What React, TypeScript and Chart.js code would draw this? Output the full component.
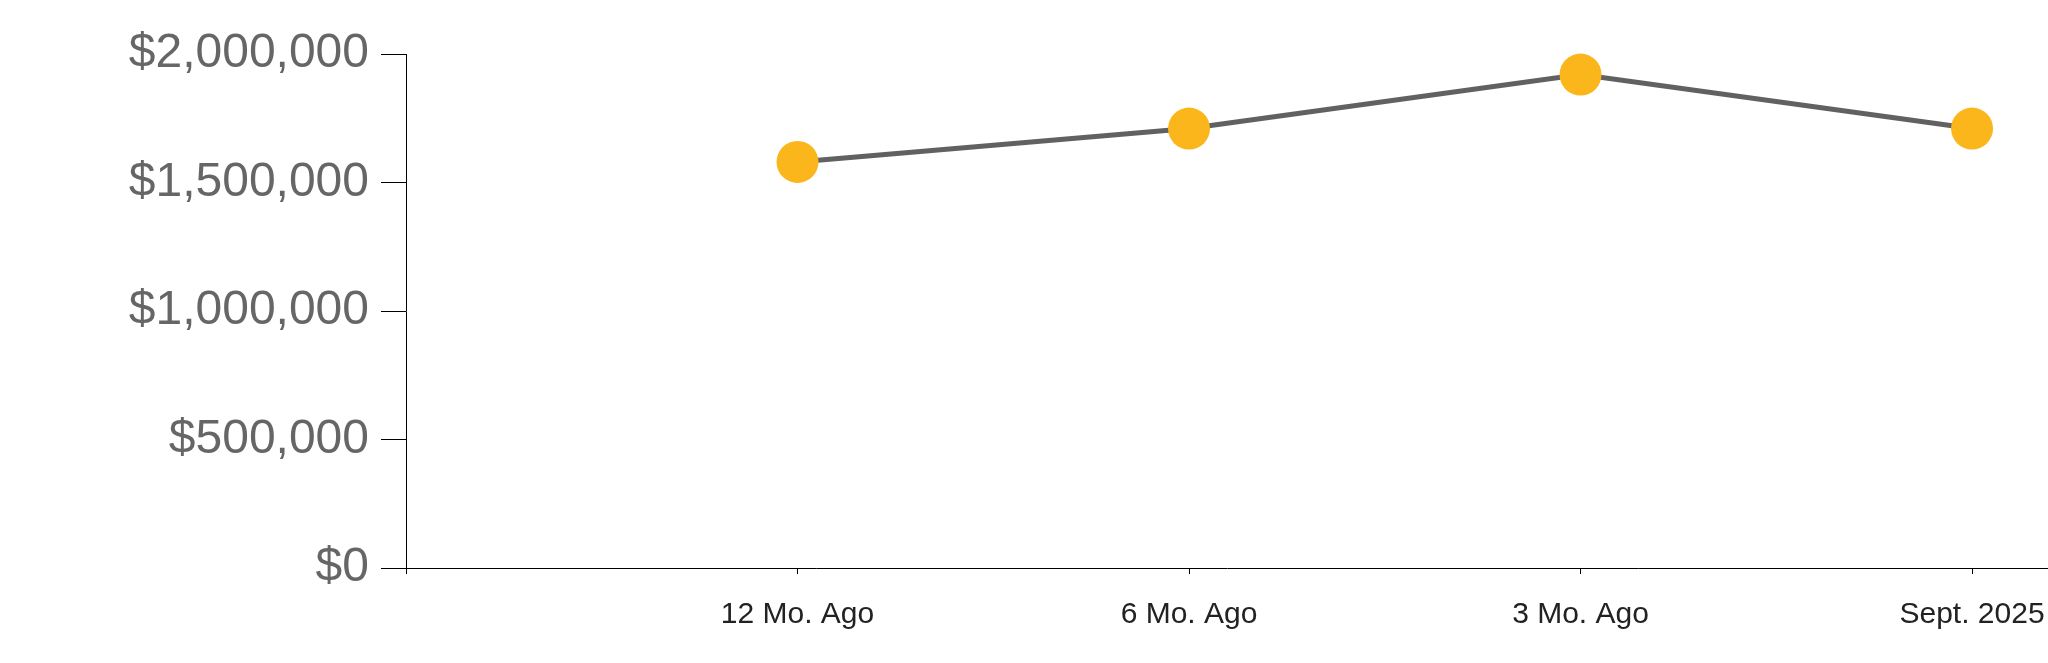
import React, { useEffect, useRef } from "react";
import { Chart, registerables } from "chart.js";

Chart.register(...registerables);

const categories: string[] = ["", "12 Mo. Ago", "6 Mo. Ago", "3 Mo. Ago", "Sept. 2025"];
const values: number[] = [1580000, 1710000, 1920000, 1710000];
const yTicks: number[] = [0, 500000, 1000000, 1500000, 2000000];

const FONT = "'Liberation Sans', Arial, Helvetica, sans-serif";

export default function App() {
  const ref = useRef<HTMLCanvasElement | null>(null);

  useEffect(() => {
    if (!ref.current) return;
    const data = values.map((v, i) => ({ x: i + 1, y: v }));
    const chart = new Chart(ref.current, {
      type: "line",
      data: {
        datasets: [
          {
            data,
            borderColor: "#616161",
            borderWidth: 5,
            pointRadius: 21,
            pointHoverRadius: 21,
            pointBackgroundColor: "#FBB61B",
            pointBorderWidth: 0,
            pointBorderColor: "#FBB61B",
            fill: false,
            tension: 0,
            clip: false,
          },
        ],
      },
      options: {
        animation: false,
        responsive: true,
        maintainAspectRatio: false,
        layout: { autoPadding: false, padding: { top: 54, right: 0, left: 0, bottom: 0 } },
        plugins: { legend: { display: false }, tooltip: { enabled: false } },
        scales: {
          x: {
            type: "linear",
            min: 0,
            max: 4.194,
            afterBuildTicks: (scale: any) => {
              scale.ticks = [0, 1, 2, 3, 4].map((v) => ({ value: v }));
            },
            afterFit: (scale: any) => {
              scale.height = 95;
              scale.paddingRight = 0;
              scale.paddingLeft = 0;
            },
            ticks: {
              stepSize: 1,
              autoSkip: false,
              maxRotation: 0,
              padding: 23,
              color: "#222222",
              font: { family: FONT, size: 30 },
              callback: (v: any) => categories[Math.round(Number(v))] ?? "",
            },
            grid: {
              drawOnChartArea: false,
              tickLength: 6,
              tickColor: "#000000",
              tickWidth: 1,
            },
            border: { display: true, color: "#000000", width: 1 },
          },
          y: {
            min: 0,
            max: 2000000,
            afterBuildTicks: (scale: any) => {
              scale.ticks = yTicks.map((v) => ({ value: v }));
            },
            afterFit: (scale: any) => {
              scale.width = 406;
            },
            ticks: {
              stepSize: 500000,
              padding: 12,
              color: "#666666",
              font: { family: FONT, size: 48 },
              callback: (v: any) => "$" + Number(v).toLocaleString("en-US"),
            },
            grid: {
              drawOnChartArea: false,
              tickLength: 25,
              tickColor: "#000000",
              tickWidth: 1,
            },
            border: { display: true, color: "#000000", width: 1 },
          },
        },
      },
    });
    return () => chart.destroy();
  }, []);

  return (
    <div style={{ position: "fixed", left: 0, top: 0, width: 2048, height: 663 }}>
      <canvas ref={ref} />
    </div>
  );
}
